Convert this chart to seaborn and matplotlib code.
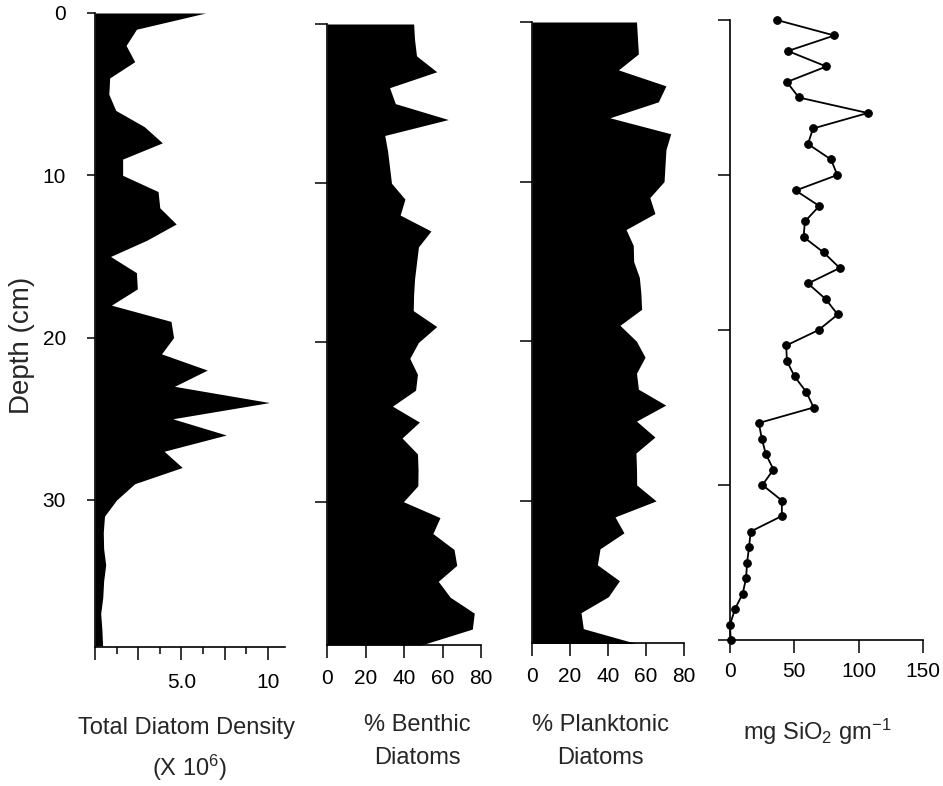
import matplotlib
matplotlib.use("Agg")
import matplotlib.pyplot as plt
import seaborn as sns

# depth in cm (one sample per cm)
depth = list(range(40))
density = [6.4, 2.4, 1.8, 2.3, 0.85, 0.8, 1.2, 2.85, 3.9, 1.6,
           1.6, 3.65, 3.75, 4.7, 3.0, 0.9, 2.4, 2.45, 0.95, 4.4,
           4.55, 3.85, 6.5, 4.6, 10.1, 4.5, 7.6, 4.0, 5.05, 2.3,
           1.25, 0.55, 0.48, 0.5, 0.62, 0.5, 0.45, 0.33, 0.4, 0.44]
benthic = [45, 45.5, 46.5, 57, 32.5, 35.5, 63, 30, 31.5, 32.5,
           33.5, 40.5, 38, 54, 47.5, 46.5, 45.5, 45, 44.8, 57,
           47.5, 43, 47, 46, 34, 48, 39, 47, 47.3, 47.2,
           39.7, 58.7, 55, 66, 67.4, 57.8, 64, 76.5, 75.5, 49]
planktonic = [55, 55.5, 56, 45.5, 70.5, 66.5, 41, 73, 70.5, 70,
              69.5, 62, 64.7, 49.5, 53.3, 53.5, 56.5, 57.3, 57.7, 46.3,
              55, 59.5, 55, 56, 70.4, 55, 64.7, 54.7, 55, 55.1,
              65.3, 43.7, 48.4, 35.8, 34.4, 46, 40.2, 25.8, 27, 56.8]
silica_depth = list(range(41))
silica = [36.4, 81.1, 45.0, 74.9, 44.2, 53.5, 107.1, 64.5, 60.6, 78.5,
          83.4, 51.0, 69.4, 58.2, 57.2, 72.8, 85.3, 60.6, 74.3, 83.7,
          68.9, 43.7, 44.2, 50.2, 59.3, 65.0, 22.4, 24.7, 27.8, 33.8,
          25.2, 40.3, 40.3, 16.1, 14.8, 13.3, 12.5, 9.9, 3.9, 0.0, 0.5]

sns.set_theme(style="ticks")
plt.rcParams["font.family"] = ["Liberation Sans", "DejaVu Sans"]
plt.rcParams["mathtext.default"] = "regular"

W, H = 943, 786
fig = plt.figure(figsize=(W / 100, H / 100), dpi=100)


def px_axes(x0, x1, y0, y1):
    return fig.add_axes([x0 / W, 1 - y1 / H, (x1 - x0) / W, (y1 - y0) / H])


def style(ax):
    sns.despine(ax=ax)
    for s in ["left", "bottom"]:
        ax.spines[s].set_color("black")
        ax.spines[s].set_linewidth(1.2)
    ax.set_facecolor("white")
    ax.tick_params(colors="black", width=1.1, labelsize=15, direction="out")
    ax.set_xlabel("")
    ax.set_ylabel("")


# Total diatom density
ax1 = px_axes(95, 285, 13, 647)
ax1.fill_betweenx(depth, 0, density, color="black", lw=0)
ax1.set_xlim(0, 11)
ax1.set_ylim(39.06, 0)
style(ax1)
ax1.set_xticks([0, 2.5, 5, 7.5, 10])
ax1.set_xticklabels(["", "", "5.0", "", "10"])
ax1.set_xticks([1.25, 3.75, 6.25, 8.75], minor=True)
ax1.tick_params(axis="x", which="major", length=9, pad=10)
ax1.tick_params(axis="x", which="minor", length=5, width=1.1, color="black", bottom=True)
ax1.set_yticks([0, 10, 20, 30])
ax1.tick_params(axis="y", length=6, pad=15)

# % Benthic
ax2 = px_axes(327, 481, 24, 645)
ax2.fill_betweenx(depth, 0, benthic, color="black", lw=0)
ax2.set_xlim(0, 80)
ax2.set_ylim(39, 0)
style(ax2)
ax2.set_xticks([0, 20, 40, 60, 80])
ax2.set_yticks([0, 10, 20, 30])
ax2.set_yticklabels([])
ax2.tick_params(axis="x", length=9.5, pad=8)
ax2.tick_params(axis="y", length=9)

# % Planktonic
ax3 = px_axes(532, 684, 22, 643)
ax3.fill_betweenx(depth, 0, planktonic, color="black", lw=0)
ax3.set_xlim(0, 80)
ax3.set_ylim(38.9, 0)
style(ax3)
ax3.set_xticks([0, 20, 40, 60, 80])
ax3.set_yticks([0, 10, 20, 30])
ax3.set_yticklabels([])
ax3.tick_params(axis="x", length=9.5, pad=8)
ax3.tick_params(axis="y", length=9)

# Biogenic silica
ax4 = px_axes(730, 923, 20, 640)
sns.lineplot(x=silica, y=silica_depth, orient="y", marker="o", color="black",
             markersize=5.5, markeredgecolor="black", linewidth=1.3, ax=ax4)
for ln in ax4.lines:
    ln.set_clip_on(False)
ax4.set_xlim(0, 150)
ax4.set_ylim(40, 0)
style(ax4)
ax4.set_xticks([0, 50, 100, 150])
ax4.set_yticks([0, 10, 20, 30, 40])
ax4.set_yticklabels([])
ax4.tick_params(axis="x", length=9, pad=7)
ax4.tick_params(axis="y", length=9)

fig.text(22 / W, 1 - 345 / H, "Depth (cm)", rotation=90, ha="center", va="center", fontsize=20)
fig.text(187 / W, 1 - 728 / H, "Total Diatom Density", ha="center", va="center", fontsize=17)
fig.text(190 / W, 1 - 768 / H, "(X 10$^6$)", ha="center", va="center", fontsize=17)
fig.text(417 / W, 1 - 725 / H, "% Benthic", ha="center", va="center", fontsize=17)
fig.text(417 / W, 1 - 758 / H, "Diatoms", ha="center", va="center", fontsize=17)
fig.text(600 / W, 1 - 725 / H, "% Planktonic", ha="center", va="center", fontsize=17)
fig.text(600 / W, 1 - 758 / H, "Diatoms", ha="center", va="center", fontsize=17)
fig.text(817 / W, 1 - 732 / H, "mg SiO$_2$ gm$^{-1}$", ha="center", va="center", fontsize=17)

fig.savefig("out.png", dpi=100, facecolor="white")
